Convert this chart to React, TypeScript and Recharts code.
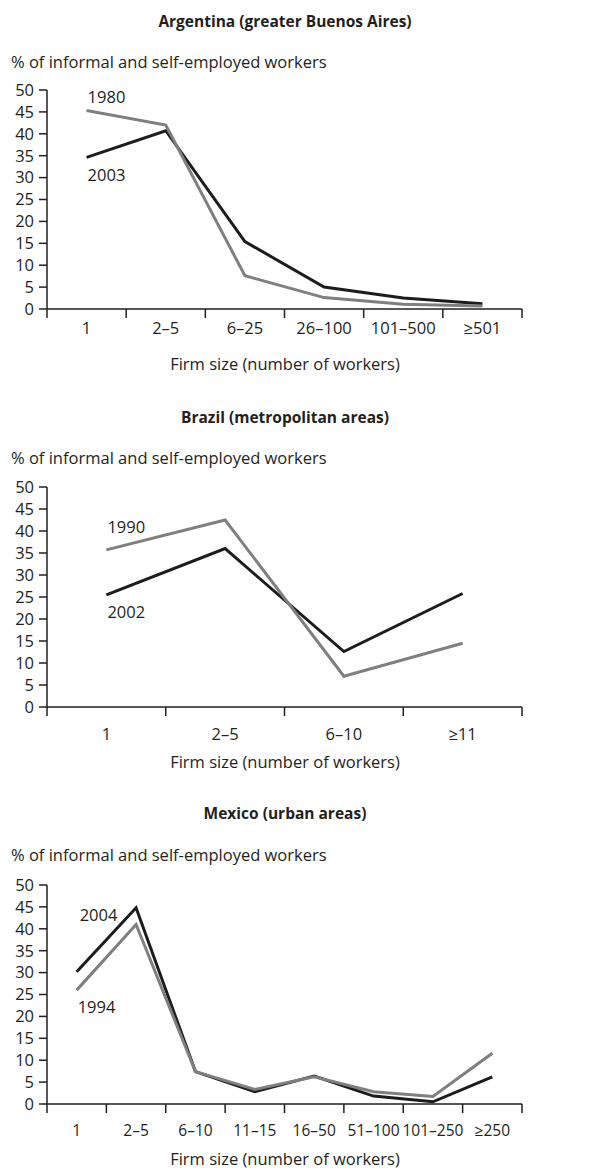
import React from 'react';
import { LineChart, Line, XAxis, YAxis } from 'recharts';

const INK = '#231f20';
const BLACK = '#1c1c1c';
const GREY = '#7f7f7f';
const FONT = '"Open Sans", sans-serif';
const FS = 16.5;

// Argentina (greater Buenos Aires)
const argCats = ['1', '2–5', '6–25', '26–100', '101–500', '≥501'];
const arg1980 = [45.3, 42.0, 7.6, 2.6, 1.1, 0.7];
const arg2003 = [34.6, 40.7, 15.4, 5.0, 2.5, 1.2];

// Brazil (metropolitan areas)
const braCats = ['1', '2–5', '6–10', '≥11'];
const bra1990 = [35.7, 42.5, 7.0, 14.5];
const bra2002 = [25.5, 36.0, 12.6, 25.8];

// Mexico (urban areas)
const mexCats = ['1', '2–5', '6–10', '11–15', '16–50', '51–100', '101–250', '≥250'];
const mex1994 = [26.0, 41.0, 7.4, 3.3, 6.2, 2.8, 1.7, 11.6];
const mex2004 = [30.2, 44.8, 7.4, 2.8, 6.4, 1.8, 0.5, 6.2];

const yTicks = [0, 5, 10, 15, 20, 25, 30, 35, 40, 45, 50];

const PLOT_LEFT = 47;
const PLOT_RIGHT = 522;
const W = 595;

type Series = { name: string; values: number[]; color: string; dx: number; dy: number };

type PanelProps = {
  title: string;
  cats: string[];
  series: Series[];
  titleY: number;
  ylabelY: number;
  plotTop: number;
  plotBottom: number;
  labelGap: number;
  catFont?: number;
};

function Panel({ title, cats, series, titleY, ylabelY, plotTop, plotBottom, labelGap, catFont = FS }: PanelProps) {
  const data = cats.map((c, i) => {
    const row: Record<string, any> = { cat: c };
    series.forEach((s) => { row[s.name] = s.values[i]; });
    return row;
  });
  const n = cats.length;
  const bw = (PLOT_RIGHT - PLOT_LEFT) / n;
  const mTop = 20;
  const axisH = 70;
  const h = plotBottom - plotTop + mTop + axisH;

  const tick = (p: any) => {
    const { x, y, payload, index } = p;
    return (
      <g>
        <line x1={x - bw / 2} y1={y} x2={x - bw / 2} y2={y + 9} stroke={INK} strokeWidth={1.5} />
        {index === n - 1 && (
          <line x1={x + bw / 2} y1={y} x2={x + bw / 2} y2={y + 9} stroke={INK} strokeWidth={1.5} />
        )}
        <text x={x} y={y + labelGap} textAnchor="middle" dominantBaseline="central"
          fill={INK} fontSize={catFont} fontFamily={FONT}>
          {payload.value}
        </text>
      </g>
    );
  };

  const seriesLabel = (s: Series) => (p: any) => {
    if (p.index !== 0) return null;
    return (
      <text key={s.name} x={p.x + s.dx} y={p.y + s.dy} dominantBaseline="central"
        fill={INK} fontSize={FS} fontFamily={FONT}>
        {s.name}
      </text>
    );
  };

  const txt: React.CSSProperties = {
    position: 'absolute', lineHeight: '20px', color: INK, fontFamily: FONT, whiteSpace: 'nowrap',
  };

  return (
    <>
      <div style={{ ...txt, top: titleY - 10, left: 0, width: 570, textAlign: 'center', fontWeight: 700, fontSize: 15.5 }}>
        {title}
      </div>
      <div style={{ ...txt, top: ylabelY - 10, left: 11, fontSize: FS }}>
        % of informal and self-employed workers
      </div>
      <div style={{ position: 'absolute', top: plotTop - mTop, left: 0 }}>
        <LineChart width={W} height={h} data={data}
          margin={{ top: mTop, right: W - PLOT_RIGHT, left: 0, bottom: 0 }}>
          <XAxis dataKey="cat" interval={0} height={axisH} tickSize={0} tickMargin={0} tickLine={false}
            padding={{ left: bw / 2, right: bw / 2 }}
            axisLine={{ stroke: INK, strokeWidth: 1.5 }} tick={tick} />
          <YAxis width={PLOT_LEFT} domain={[0, 50]} ticks={yTicks} interval={0} tickSize={8} tickMargin={5}
            axisLine={{ stroke: INK, strokeWidth: 1.5 }} tickLine={{ stroke: INK, strokeWidth: 1.5 }}
            tick={{ fill: INK, fontSize: FS, fontFamily: FONT }} />
          {series.map((s) => (
            <Line key={s.name} type="linear" dataKey={s.name} stroke={s.color} strokeWidth={3}
              dot={false} isAnimationActive={false} label={seriesLabel(s)} />
          ))}
        </LineChart>
      </div>
      <div style={{ ...txt, top: plotBottom + 55 - 10, left: 0, width: 570, textAlign: 'center', fontSize: FS }}>
        Firm size (number of workers)
      </div>
    </>
  );
}

export default function App() {
  return (
    <div style={{ position: 'absolute', top: 0, left: 0, width: W, height: 1170, background: '#fff' }}>
      <Panel title="Argentina (greater Buenos Aires)" cats={argCats}
        series={[
          { name: '2003', values: arg2003, color: BLACK, dx: 1, dy: 17 },
          { name: '1980', values: arg1980, color: GREY, dx: 1, dy: -14 },
        ]}
        titleY={21} ylabelY={62} plotTop={90} plotBottom={309} labelGap={18} />
      <Panel title="Brazil (metropolitan areas)" cats={braCats}
        series={[
          { name: '2002', values: bra2002, color: BLACK, dx: 1, dy: 17 },
          { name: '1990', values: bra1990, color: GREY, dx: 1, dy: -23 },
        ]}
        titleY={417} ylabelY={458} plotTop={487} plotBottom={707} labelGap={26} />
      <Panel title="Mexico (urban areas)" cats={mexCats}
        series={[
          { name: '2004', values: mex2004, color: BLACK, dx: 3, dy: -57 },
          { name: '1994', values: mex1994, color: GREY, dx: 1, dy: 16 },
        ]}
        titleY={813} ylabelY={855} plotTop={885} plotBottom={1104} labelGap={26} catFont={15.5} />
    </div>
  );
}
